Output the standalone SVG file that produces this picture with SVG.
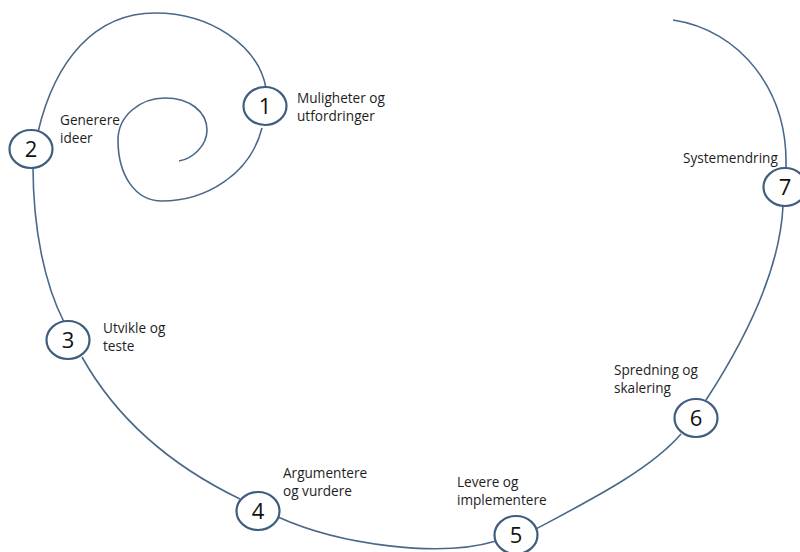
<svg xmlns="http://www.w3.org/2000/svg" width="800" height="552" viewBox="0 0 800 552">
<style>
.ln{fill:none;stroke:#4a6888;stroke-width:1.6}
.nd{fill:#fff;stroke:#3f5d7e;stroke-width:2.2}
.num{font-family:"Open Sans","Liberation Sans",sans-serif;font-size:22px;fill:#111;text-anchor:middle}
.lb{font-family:"Open Sans","Liberation Sans",sans-serif;font-size:13.6px;fill:#1e1e1e}
</style>
<rect width="800" height="552" fill="#fff"/>
<g id="connectors">
<path class="ln" d="M179,161 C192,159 207,146 207,130 C207,112 190,98 165,98 C140,98 118,116 118,140 C118,175 135,201 162,201 C205,201 250,175 262,128"/>
<path class="ln" d="M266,88 C258,45 210,13 155,13 C95,13 55,60 38,132"/>
<path class="ln" d="M33,166 C33,230 45,285 64,322"/>
<path class="ln" d="M82,357 C120,425 180,470 240,499"/>
<path class="ln" d="M278,517 C340,545 440,558 496,541"/>
<path class="ln" d="M536,529 C590,500 650,470 681,434"/>
<path class="ln" d="M706,400 C745,340 780,270 783,206"/>
<path class="ln" d="M786,167 C788,90 740,30 673,20"/>
</g>
<g id="n1"><ellipse class="nd" cx="265" cy="106" rx="21.5" ry="19"/><text class="num" x="265" y="114">1</text>
<text class="lb" x="297" y="103">Muligheter og</text><text class="lb" x="297" y="121">utfordringer</text></g>
<g id="n2"><ellipse class="nd" cx="31" cy="149" rx="21.5" ry="19"/><text class="num" x="31" y="157">2</text>
<text class="lb" x="60" y="125">Generere</text><text class="lb" x="60" y="143">ideer</text></g>
<g id="n3"><ellipse class="nd" cx="68" cy="340" rx="21.5" ry="19"/><text class="num" x="68" y="348">3</text>
<text class="lb" x="103" y="333">Utvikle og</text><text class="lb" x="103" y="351">teste</text></g>
<g id="n4"><ellipse class="nd" cx="258" cy="511" rx="21.5" ry="19"/><text class="num" x="258" y="519">4</text>
<text class="lb" x="283" y="478">Argumentere</text><text class="lb" x="283" y="496">og vurdere</text></g>
<g id="n5"><ellipse class="nd" cx="516" cy="535" rx="21.5" ry="19"/><text class="num" x="516" y="543">5</text>
<text class="lb" x="457" y="487">Levere og</text><text class="lb" x="457" y="505">implementere</text></g>
<g id="n6"><ellipse class="nd" cx="696" cy="418" rx="21.5" ry="19"/><text class="num" x="696" y="426">6</text>
<text class="lb" x="614" y="375">Spredning og</text><text class="lb" x="614" y="393">skalering</text></g>
<g id="n7"><ellipse class="nd" cx="785" cy="187" rx="21.5" ry="19"/><text class="num" x="785" y="195">7</text>
<text class="lb" x="683" y="163">Systemendring</text></g>
</svg>
